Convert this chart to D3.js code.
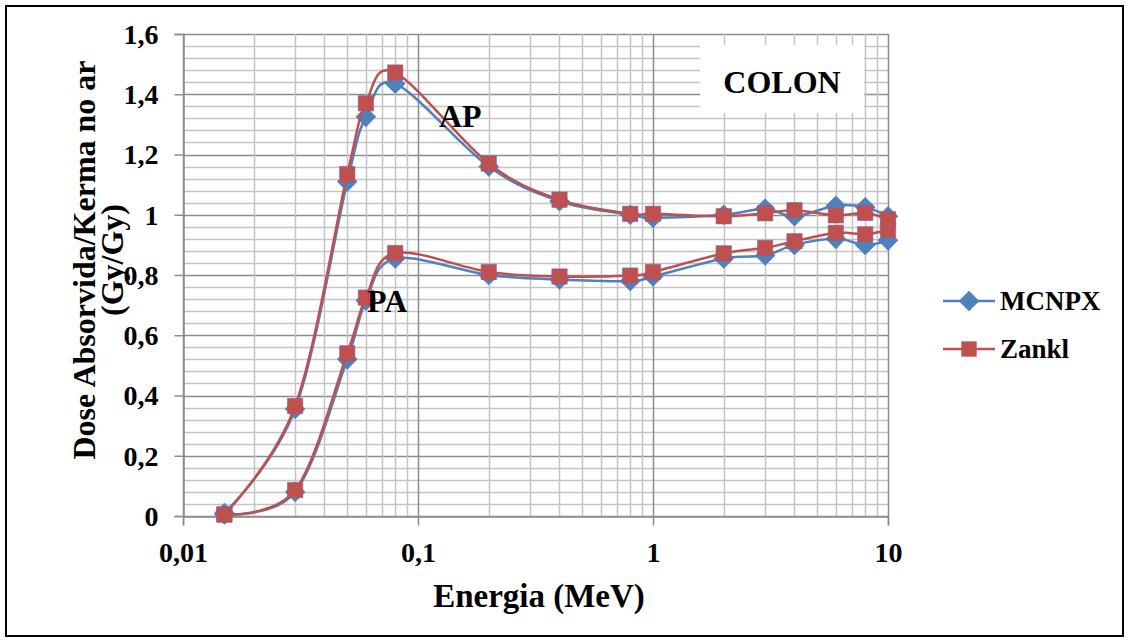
<!DOCTYPE html>
<html>
<head>
<meta charset="utf-8">
<script src="https://cdn.jsdelivr.net/npm/d3@7"></script>
<style>
  body { margin: 0; background: #fff; }
</style>
</head>
<body>
<svg id="chart" width="1129" height="643"></svg>
<script>
'use strict';

// energies (MeV)
var energies = [0.015, 0.03, 0.05, 0.06, 0.08, 0.2, 0.4, 0.8, 1, 2, 3, 4, 6, 8, 10];

// AP geometry
var apMcnpx = [0.01, 0.355, 1.11, 1.325, 1.435, 1.16, 1.045, 1.0, 0.99, 1.0, 1.02, 0.995, 1.03, 1.025, 0.995];
var apZankl = [0.005, 0.365, 1.135, 1.37, 1.472, 1.17, 1.05, 1.003, 1.003, 0.995, 1.005, 1.015, 0.998, 1.006, 0.985];

// PA geometry
var paMcnpx = [0.005, 0.08, 0.52, 0.715, 0.855, 0.80, 0.785, 0.78, 0.795, 0.855, 0.865, 0.9, 0.92, 0.9, 0.915];
var paZankl = [0.005, 0.086, 0.54, 0.725, 0.873, 0.81, 0.795, 0.798, 0.81, 0.872, 0.89, 0.912, 0.94, 0.935, 0.95];

var yTicks = [0, 0.2, 0.4, 0.6, 0.8, 1, 1.2, 1.4, 1.6];
var xTicks = [0.01, 0.1, 1, 10];

var seriesNames = ["MCNPX", "Zankl"];
var colors = { MCNPX: "#4f81bd", Zankl: "#c0504d" };

var FONT = "'Liberation Serif', 'Times New Roman', Tinos, 'DejaVu Serif', serif";

var svg = d3.select("#chart");

var plot = { left: 183, right: 888, top: 34, bottom: 516 };

var x = d3.scaleLog().domain([0.01, 10]).range([plot.left, plot.right]);
var y = d3.scaleLinear().domain([0, 1.6]).range([plot.bottom, plot.top]);

function fmt(v) {
    return String(v).replace(".", ",");
}

function label(sel, size) {
    return sel.style("font-family", FONT)
        .style("font-weight", "bold")
        .style("font-size", size + "px")
        .attr("fill", "#000");
}

// outer frame
svg.append("rect")
    .attr("x", 6).attr("y", 6)
    .attr("width", 1117).attr("height", 630)
    .attr("fill", "none")
    .attr("stroke", "#000")
    .attr("stroke-width", 2);

// grid
var grid = svg.append("g").attr("class", "grid");

var hLines = d3.range(0, 41).map(function (i) { return i * 0.04; });
grid.selectAll("line.h")
    .data(hLines)
    .enter().append("line")
    .attr("class", "h")
    .attr("x1", plot.left).attr("x2", plot.right)
    .attr("y1", function (d) { return Math.round(y(d)) + 0.5; })
    .attr("y2", function (d) { return Math.round(y(d)) + 0.5; })
    .attr("stroke", function (d, i) { return i % 5 === 0 ? "#8c8c8c" : "#c4c4c4"; })
    .attr("stroke-width", 1.5);

var vLines = [];
[0.01, 0.1, 1].forEach(function (dec) {
    for (var k = 1; k <= 9; k++) vLines.push({ v: dec * k, major: k === 1 });
});
vLines.push({ v: 10, major: true });

grid.selectAll("line.v")
    .data(vLines)
    .enter().append("line")
    .attr("class", "v")
    .attr("y1", plot.top).attr("y2", plot.bottom)
    .attr("x1", function (d) { return Math.round(x(d.v)) + 0.5; })
    .attr("x2", function (d) { return Math.round(x(d.v)) + 0.5; })
    .attr("stroke", function (d) { return d.major ? "#8c8c8c" : "#c4c4c4"; })
    .attr("stroke-width", 1.5);

// axes
var yAxis = d3.axisLeft(y).tickValues(yTicks).tickSize(9).tickFormat(fmt);
var gy = svg.append("g")
    .attr("transform", "translate(" + (plot.left + 0.5) + ",0)")
    .call(yAxis);
gy.select(".domain").attr("stroke", "#8c8c8c").attr("stroke-width", 1.5);
gy.selectAll(".tick line").attr("stroke", "#8c8c8c").attr("stroke-width", 1.5);
label(gy.selectAll(".tick text").attr("x", -25).attr("dy", "0.33em"), 28);

var xAxis = d3.axisBottom(x).tickValues(xTicks).tickSize(9).tickFormat(fmt);
var gx = svg.append("g")
    .attr("transform", "translate(0," + (plot.bottom + 0.5) + ")")
    .call(xAxis);
gx.select(".domain").attr("stroke", "#8c8c8c").attr("stroke-width", 1.5);
gx.selectAll(".tick line").attr("stroke", "#8c8c8c").attr("stroke-width", 1.5);
label(gx.selectAll(".tick text").attr("y", 26), 28);

// COLON label box
svg.append("rect")
    .attr("x", 700).attr("y", 45)
    .attr("width", 164).attr("height", 68)
    .attr("fill", "#fff");
label(svg.append("text")
    .attr("x", 782).attr("y", 93)
    .attr("text-anchor", "middle")
    .text("COLON"), 32);

// curves
var line = d3.line()
    .x(function (d) { return x(d[0]); })
    .y(function (d) { return y(d[1]); })
    .curve(d3.curveCatmullRom.alpha(0));

var curves = [
    { name: "MCNPX", values: paMcnpx },
    { name: "MCNPX", values: apMcnpx },
    { name: "Zankl", values: paZankl },
    { name: "Zankl", values: apZankl }
];

var diamond = d3.symbol().type(d3.symbolDiamond2).size(270);
var square = d3.symbol().type(d3.symbolSquare2).size(300);

curves.forEach(function (c) {
    var pts = energies.map(function (e, i) { return [e, c.values[i]]; });
    var g = svg.append("g");
    g.append("path")
        .datum(pts)
        .attr("d", line)
        .attr("fill", "none")
        .attr("stroke", colors[c.name])
        .attr("stroke-width", 2.5);
    g.selectAll("path.m")
        .data(pts)
        .enter().append("path")
        .attr("class", "m")
        .attr("transform", function (d) { return "translate(" + x(d[0]) + "," + y(d[1]) + ")"; })
        .attr("d", c.name === "MCNPX" ? diamond : square)
        .attr("fill", colors[c.name])
        .attr("stroke", c.name === "MCNPX" ? "none" : "#8064a2")
        .attr("stroke-opacity", 0.6)
        .attr("stroke-width", 1);
});

// series labels
label(svg.append("text").attr("x", 439).attr("y", 127).text("AP"), 32);
label(svg.append("text").attr("x", 367).attr("y", 312).text("PA"), 32);

// axis titles
label(svg.append("text")
    .attr("x", 539).attr("y", 607)
    .attr("text-anchor", "middle")
    .text("Energia (MeV)"), 33);

var yTitle = label(svg.append("text")
    .attr("transform", "translate(95,260) rotate(-90)")
    .attr("text-anchor", "middle"), 32);
yTitle.append("tspan").attr("x", 0).attr("dy", 0).text("Dose Absorvida/Kerma no ar");
yTitle.append("tspan").attr("x", 0).attr("dy", 28).text("(Gy/Gy)");

// legend
var legend = svg.append("g").attr("class", "legend");
var legendItems = legend.selectAll("g")
    .data(seriesNames)
    .enter().append("g")
    .attr("transform", function (d, i) { return "translate(943," + (301 + i * 48) + ")"; });
legendItems.append("line")
    .attr("x1", 0).attr("x2", 52)
    .attr("stroke", function (d) { return colors[d]; })
    .attr("stroke-width", 2.5);
legendItems.append("path")
    .attr("transform", "translate(26,0)")
    .attr("d", function (d) { return d === "MCNPX" ? diamond() : square(); })
    .attr("fill", function (d) { return colors[d]; });
label(legendItems.append("text")
    .attr("x", 57).attr("y", 9)
    .text(function (d) { return d; }), 27);
</script>
</body>
</html>
